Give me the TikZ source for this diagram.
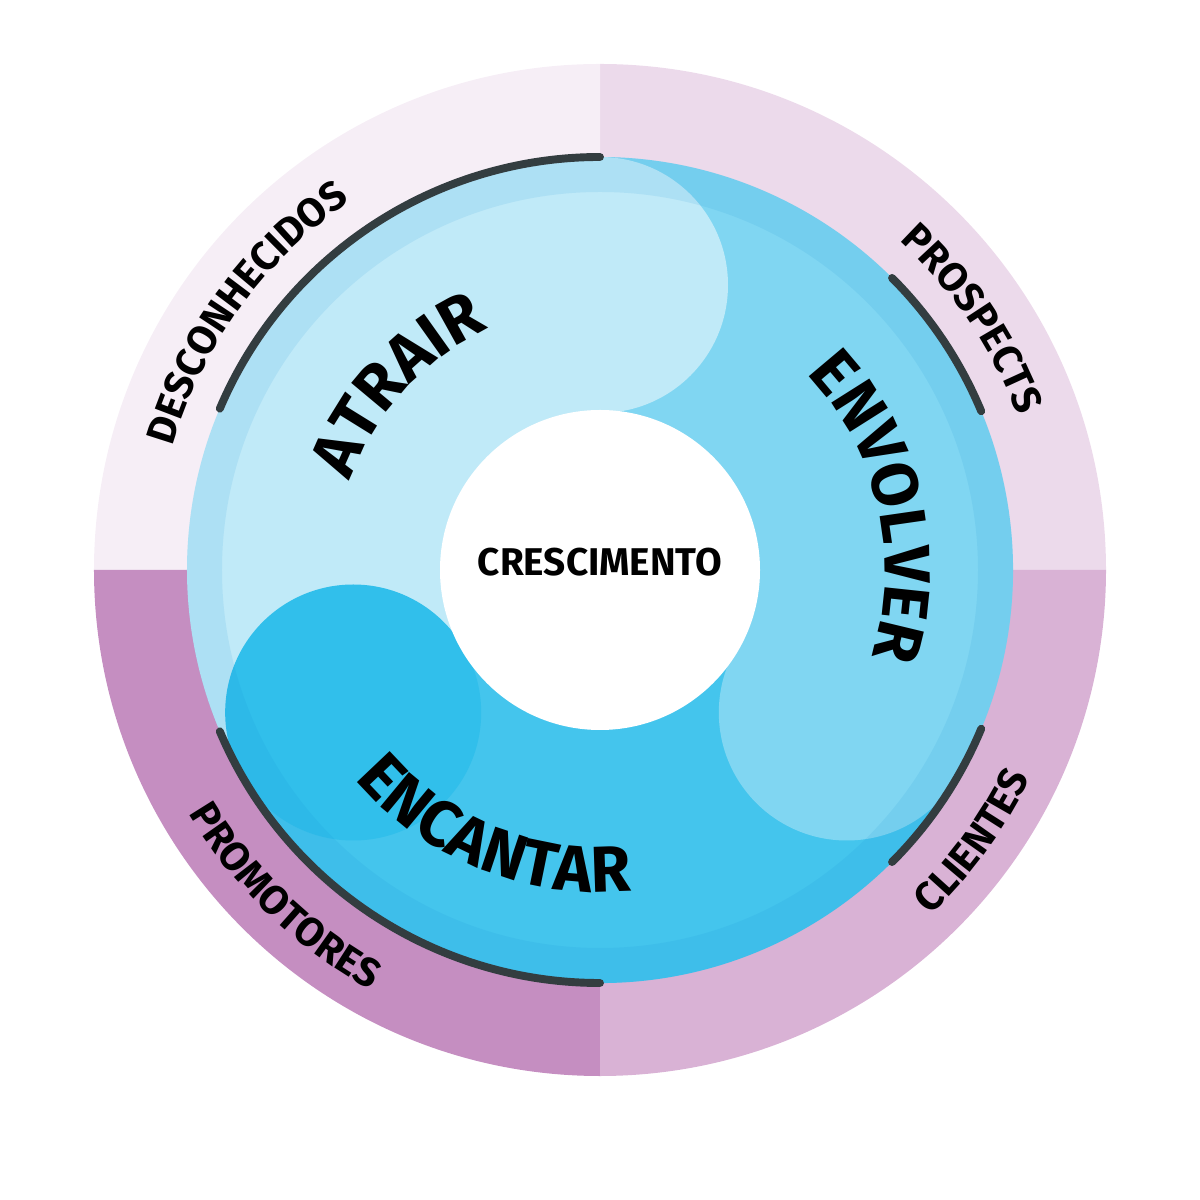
\documentclass[tikz,border=0pt]{standalone}
\usepackage{fontspec}
\setmainfont{Fira Sans}
\usetikzlibrary{decorations.text}
\definecolor{quadTL}{HTML}{F6EEF6}
\definecolor{quadTR}{HTML}{ECDAEB}
\definecolor{quadBR}{HTML}{D9B2D5}
\definecolor{quadBL}{HTML}{C58EC1}
\definecolor{bladeA}{HTML}{C0EAF8}
\definecolor{bladeB}{HTML}{80D6F2}
\definecolor{bladeC}{HTML}{44C5ED}
\definecolor{lobeC}{HTML}{31BFEB}
\definecolor{rimdark}{HTML}{333D40}
\newcommand{\outerfont}{\fontsize{23}{26}\selectfont\bfseries}
\newcommand{\innerfont}{\fontsize{37}{40}\selectfont\bfseries}
\tikzset{
  rimarc/.style={draw=rimdark,line width=4.5pt,line cap=round},
  curved label/.style={decorate,decoration={text along path,text align=center,text={#1}}}
}
\begin{document}
\begin{tikzpicture}[scale=2]
  \useasboundingbox (-6,-6.3) rectangle (6,5.7);
  % outer quadrants
  \fill[quadTR] (0,0) -- (0:5.06) arc[start angle=0,end angle=90,radius=5.06] -- cycle;
  \fill[quadTL] (0,0) -- (90:5.06) arc[start angle=90,end angle=180,radius=5.06] -- cycle;
  \fill[quadBL] (0,0) -- (180:5.06) arc[start angle=180,end angle=270,radius=5.06] -- cycle;
  \fill[quadBR] (0,0) -- (270:5.06) arc[start angle=270,end angle=360,radius=5.06] -- cycle;
  % blades
  \fill[bladeA] (0,0) -- (90:4.13) arc[start angle=90,end angle=210,radius=4.13] -- cycle;
  \fill[bladeC] (0,0) -- (210:4.13) arc[start angle=210,end angle=330,radius=4.13] -- cycle;
  \fill[bladeB] (0,0) -- (330:4.13) arc[start angle=330,end angle=450,radius=4.13] -- cycle;
  \fill[bladeA] (90:2.85) circle[radius=1.28];
  \fill[lobeC] (210:2.85) circle[radius=1.28];
  \fill[bladeB] (330:2.85) circle[radius=1.28];
  % rim
  \fill[cyan!70!blue,opacity=0.1,even odd rule] (0,0) circle[radius=4.13] (0,0) circle[radius=3.78];
  \fill[white] (0,0) circle[radius=1.6];
  \node[font=\fontsize{22}{25}\selectfont\bfseries] (growth) at (0,0.08) {CRESCIMENTO};
  % dark arcs
  \draw[rimarc] (90:4.13) arc[start angle=90,end angle=157,radius=4.13];
  \draw[rimarc] (45:4.13) arc[start angle=45,end angle=22.6,radius=4.13];
  \draw[rimarc] (-22.6:4.13) arc[start angle=-22.6,end angle=-45,radius=4.13];
  \draw[rimarc] (-157:4.13) arc[start angle=-157,end angle=-90,radius=4.13];
  % outer labels
  \path[curved label={|\outerfont|DESCONHECIDOS}] (175:4.45) arc[start angle=175,end angle=113,radius=4.45];
  \path[curved label={|\outerfont|PROSPECTS}] (60:4.45) arc[start angle=60,end angle=8,radius=4.45];
  \path[curved label={|\outerfont|CLIENTES}] (-60:4.78) arc[start angle=-60,end angle=-12,radius=4.78];
  \path[curved label={|\outerfont|PROMOTORES}] (-162:4.78) arc[start angle=-162,end angle=-106,radius=4.78];
  % inner labels
  \path[curved label={|\innerfont|ATRAIR}] (175:2.65) arc[start angle=175,end angle=100,radius=2.65];
  \path[curved label={|\innerfont|ENVOLVER}] (58:2.85) arc[start angle=58,end angle=-32,radius=2.85];
  \path[curved label={|\innerfont|ENCANTAR}] (-160:3.22) arc[start angle=-160,end angle=-64,radius=3.22];
\end{tikzpicture}
\end{document}
